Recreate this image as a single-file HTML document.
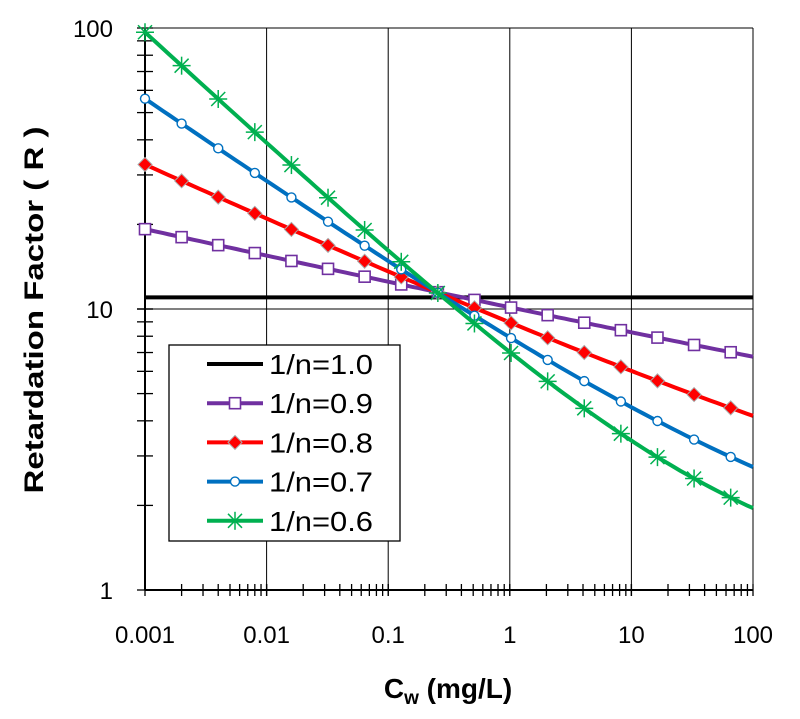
<!DOCTYPE html>
<html><head><meta charset="utf-8"><style>body{margin:0;background:#fff}svg{display:block}</style></head>
<body>
<svg id="s" width="800" height="719" xmlns="http://www.w3.org/2000/svg" font-family="Liberation Sans, sans-serif"></svg>
<script>
const X0=145,X1=753,Y100=28,Y1=590;
const px=c=>X0+(Math.log10(c)+3)*(X1-X0)/5;
const py=r=>Y1-Math.log10(r)*(Y1-Y100)/2;
let h='';
for(let d=-3;d<=2;d++){const x=px(10**d);h+=`<line x1="${x}" y1="${Y100}" x2="${x}" y2="${Y1}" stroke="#000" stroke-width="1"/>`;}
for(let e=0;e<=2;e++){const y=py(10**e);h+=`<line x1="${X0}" y1="${y}" x2="${X1}" y2="${y}" stroke="#000" stroke-width="1"/>`;}
h+=`<line x1="${X0}" y1="${Y100}" x2="${X0}" y2="${Y1}" stroke="#000" stroke-width="2"/>`;
h+=`<line x1="${X0}" y1="${Y1}" x2="${X1}" y2="${Y1}" stroke="#000" stroke-width="2"/>`;
for(let d=-3;d<2;d++)for(let k=1;k<=10;k++){const x=px(k*10**d);h+=`<line x1="${x}" y1="${Y1-6}" x2="${x}" y2="${Y1+6}" stroke="#000" stroke-width="1.3"/>`;}
for(let e=0;e<2;e++)for(let k=1;k<=10;k++){const y=py(k*10**e);h+=`<line x1="${X0-8}" y1="${y}" x2="${X0+8}" y2="${y}" stroke="#000" stroke-width="1.3"/>`;}
['0.001','0.01','0.1','1','10','100'].forEach((t,i)=>{h+=`<text x="${px(10**(i-3))}" y="643" font-size="24" text-anchor="middle">${t}</text>`});
[['100',100],['10',10],['1',1]].forEach(([t,v])=>{h+=`<text x="113" y="${py(v)+9}" font-size="24" text-anchor="end">${t}</text>`});
h+=`<text x="448" y="698" font-size="28" font-weight="bold" text-anchor="middle">C<tspan font-size="19" dy="6">w</tspan><tspan dy="-6"> (mg/L)</tspan></text>`;
h+=`<text transform="translate(43,310) rotate(-90)" font-size="27" font-weight="bold" text-anchor="middle" textLength="367" lengthAdjust="spacingAndGlyphs">Retardation Factor ( R )</text>`;
const S=[[0.9,'#7030a0','sq'],[0.8,'#ff0000','di'],[0.7,'#0070c0','ci'],[0.6,'#00b050','st']];
const R=(m,c)=>1+10.5*Math.pow(0.25,1-m)*Math.pow(c,m-1);
function mk(t,col,x,y){
 if(t=='sq')return `<rect x="${x-5.5}" y="${y-5.5}" width="11" height="11" fill="#fff" stroke="${col}" stroke-width="1.6"/>`;
 if(t=='di')return `<polygon points="${x},${y-7} ${x+7},${y} ${x},${y+7} ${x-7},${y}" fill="${col}" stroke="#aaa" stroke-width="1"/>`;
 if(t=='ci')return `<circle cx="${x}" cy="${y}" r="4.5" fill="#fff" stroke="${col}" stroke-width="1.4"/>`;
 return `<g stroke="${col}" stroke-width="1.5"><line x1="${x-9}" y1="${y}" x2="${x+9}" y2="${y}"/><line x1="${x}" y1="${y-9}" x2="${x}" y2="${y+9}"/><line x1="${x-7}" y1="${y-7}" x2="${x+7}" y2="${y+7}"/><line x1="${x-7}" y1="${y+7}" x2="${x+7}" y2="${y-7}"/></g>`;
}
h+=`<line x1="${X0}" y1="${py(11)}" x2="${X1}" y2="${py(11)}" stroke="#000" stroke-width="4"/>`;
S.forEach(([m,col,t])=>{let p=[];for(let i=0;i<=100;i++){const c=10**(-3+5*i/100);p.push(px(c).toFixed(1)+','+py(R(m,c)).toFixed(1));}
 h+=`<polyline points="${p.join(' ')}" fill="none" stroke="${col}" stroke-width="4"/>`;
 for(let k=0;k<=16;k++){const c=0.001*2**k;h+=mk(t,col,px(c),py(R(m,c)));}});
h+=`<rect x="169" y="345" width="231" height="196" fill="#fff" stroke="#000" stroke-width="1.3"/>`;
const L=[['1/n=1.0','#000',null],['1/n=0.9','#7030a0','sq'],['1/n=0.8','#ff0000','di'],['1/n=0.7','#0070c0','ci'],['1/n=0.6','#00b050','st']];
L.forEach(([t,col,m],i)=>{const y=364+i*39.2;h+=`<line x1="207" y1="${y}" x2="263" y2="${y}" stroke="${col}" stroke-width="4"/>`;if(m)h+=mk(m,col,235,y);h+=`<text x="269" y="${y+10}" font-size="28" textLength="104" lengthAdjust="spacingAndGlyphs">${t}</text>`;});
document.getElementById('s').innerHTML=h;
</script>
</body></html>
